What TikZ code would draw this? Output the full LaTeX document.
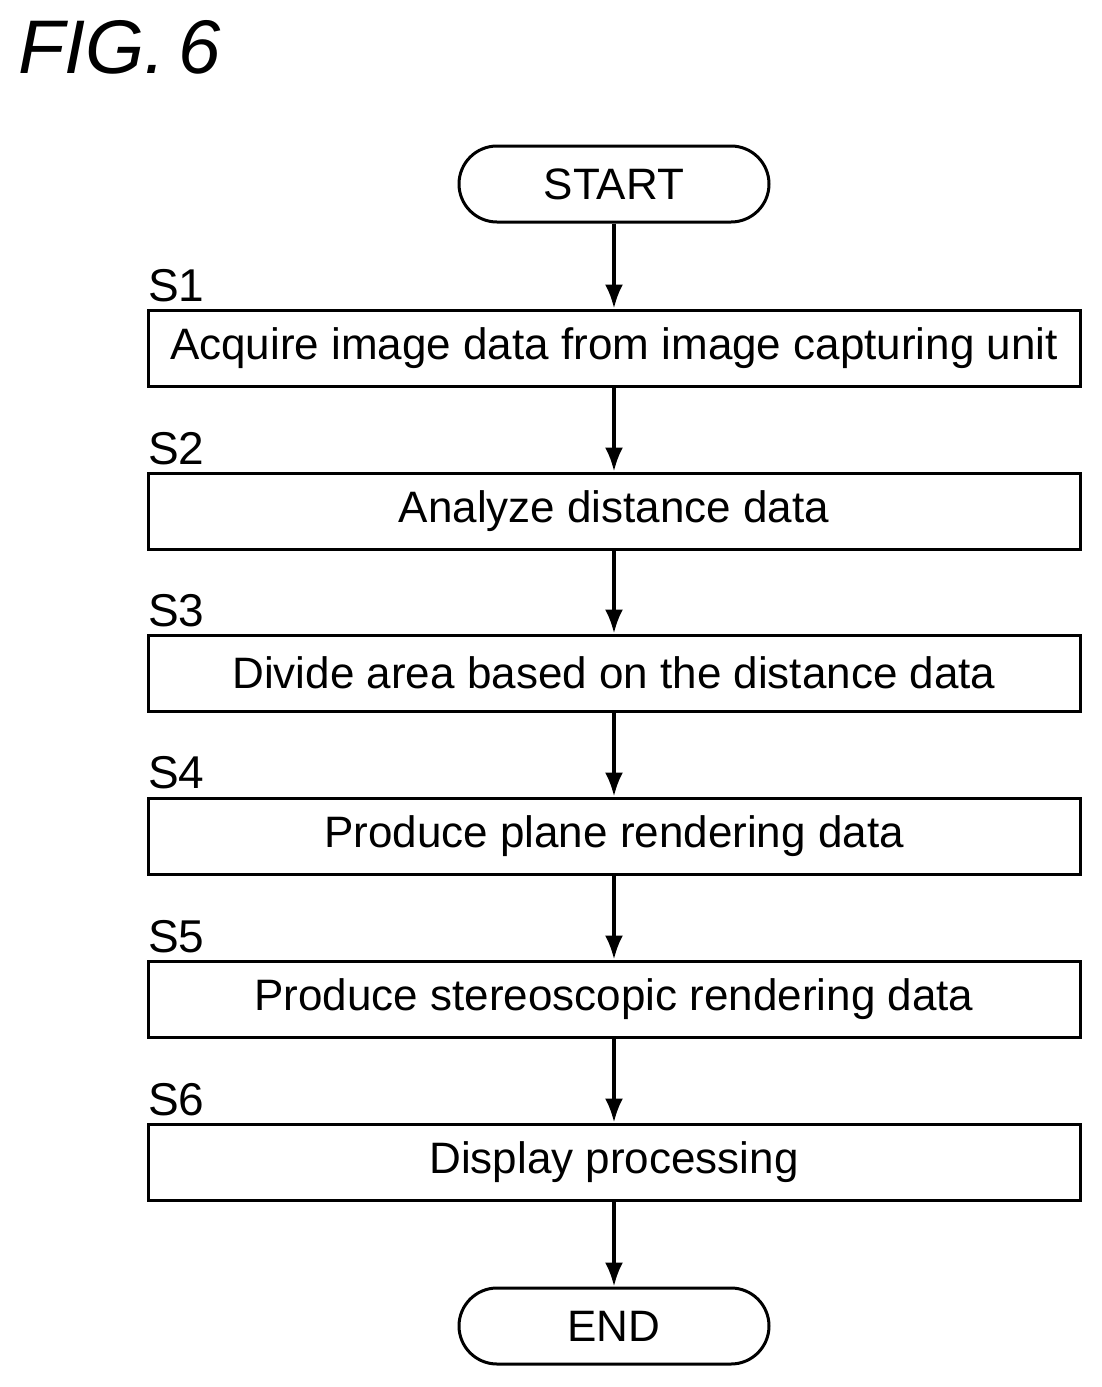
\documentclass[tikz,border=0pt]{standalone}
\usetikzlibrary{arrows.meta}
\usepackage{fontspec}
\setmainfont{Liberation Sans}
\begin{document}
\begin{tikzpicture}[x=1pt,y=-1pt,
  box/.style={draw,line width=3pt,minimum width=932pt,minimum height=76pt,inner sep=0pt,font=\fontsize{44}{48}\selectfont},
  term/.style={draw,line width=3pt,rounded corners=38pt,minimum width=310pt,minimum height=76pt,inner sep=0pt,font=\fontsize{44}{48}\selectfont},
  lab/.style={anchor=south west,inner sep=0pt,font=\fontsize{46}{50}\selectfont},
  arr/.style={line width=3.5pt,-{Latex[length=24pt,width=18pt]}}]
\useasboundingbox (0,0) rectangle (1102,1387);
\node[anchor=north west,inner sep=0pt,font=\fontsize{76}{80}\selectfont\itshape] (fig) at (18,20) {FIG.\,6};
\node[term] (start) at (614,184) {START};
\node[box] (s1) at (614,348) {Acquire image data from image capturing unit};
\node[box] (s2) at (614,511) {Analyze distance data};
\node[box] (s3) at (614,673) {Divide area based on the distance data};
\node[box] (s4) at (614,836) {Produce plane rendering data};
\node[box] (s5) at (614,999) {Produce stereoscopic rendering data};
\node[box] (s6) at (614,1162) {Display processing};
\node[term] (end) at (614,1326) {END};
\foreach \n/\y in {1/302,2/465,3/627,4/789,5/953,6/1116}
  \node[lab] (l\n) at (148,\y) {S\n};
\draw[arr] (start) -- (s1);
\draw[arr] (s1) -- (s2);
\draw[arr] (s2) -- (s3);
\draw[arr] (s3) -- (s4);
\draw[arr] (s4) -- (s5);
\draw[arr] (s5) -- (s6);
\draw[arr] (s6) -- (end);
\end{tikzpicture}
\end{document}
